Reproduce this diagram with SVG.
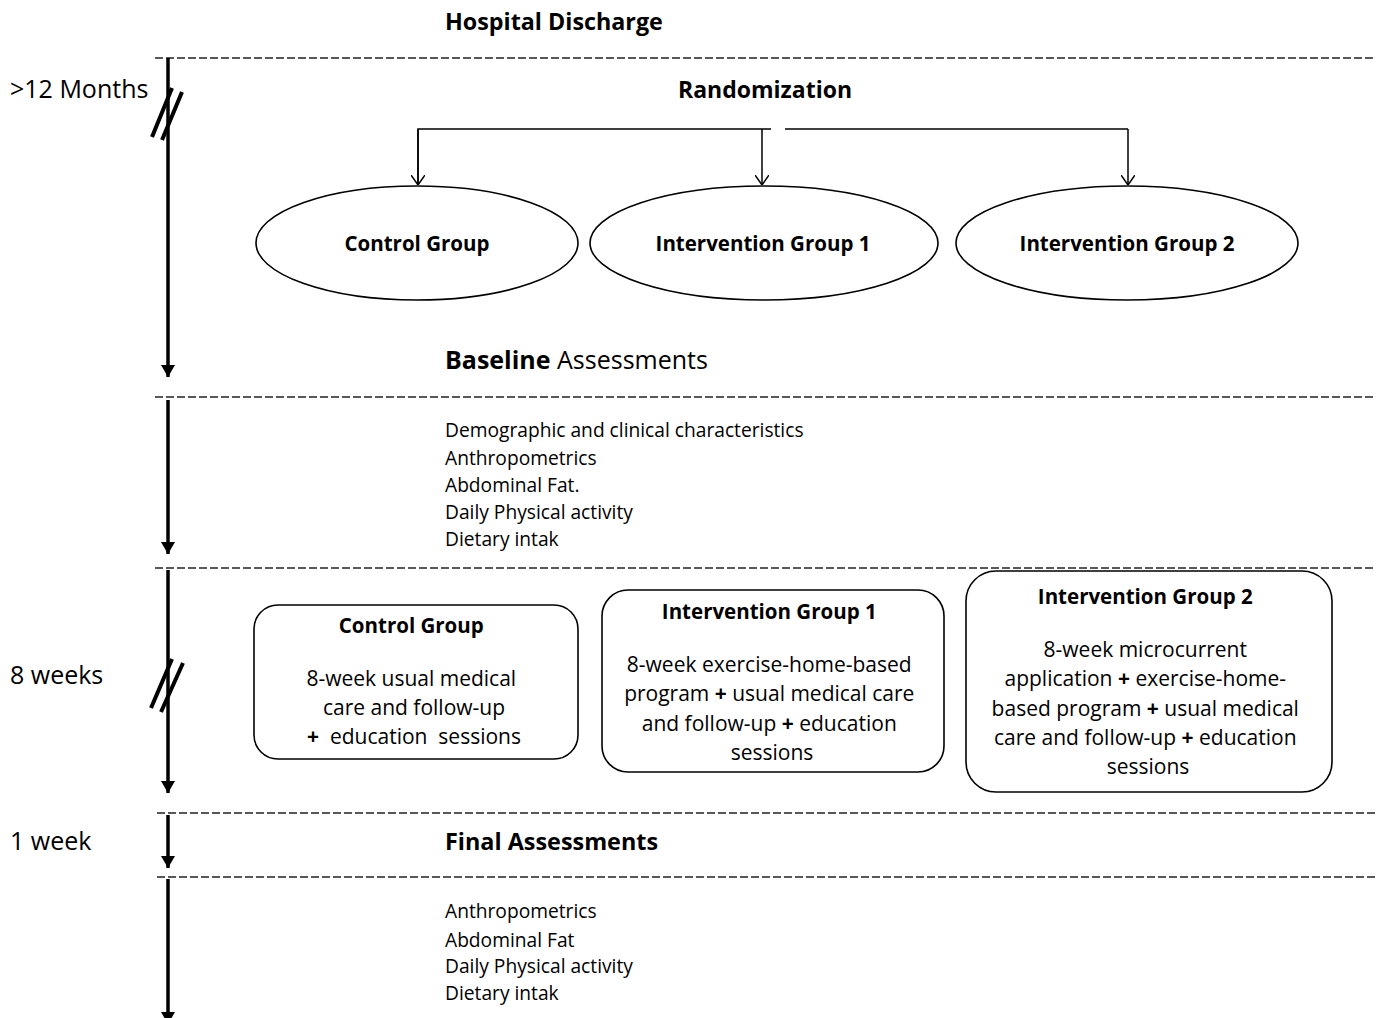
<svg xmlns="http://www.w3.org/2000/svg" width="1376" height="1018" viewBox="0 0 1376 1018">
<defs>
<style>
.t{font-family:"Open Sans","Liberation Sans",sans-serif;fill:#000}
.b{font-weight:bold}
.dash{stroke:#222;stroke-width:1.6;stroke-dasharray:8 3;fill:none}
.tl{stroke:#000;stroke-width:3.5;fill:none}
.sl{stroke:#000;stroke-width:4;fill:none}
.con{stroke:#000;stroke-width:1.5;fill:none}
.node{fill:#fff;stroke:#000;stroke-width:1.6}
</style>
<marker id="tip" viewBox="0 0 12 14" markerWidth="12" markerHeight="14" refX="12" refY="7" orient="auto" markerUnits="userSpaceOnUse"><path d="M0,0 L12,7 L0,14 Z" fill="#000"/></marker>
<marker id="vee" viewBox="0 0 10 14" markerWidth="10" markerHeight="14" refX="10" refY="7" orient="auto" markerUnits="userSpaceOnUse"><path d="M0,0 L10,7 L0,14" fill="none" stroke="#000" stroke-width="1.5"/></marker>
</defs>
<rect width="1376" height="1018" fill="#fff"/>
<g id="dividers">
<line class="dash" x1="155" y1="58" x2="1376" y2="58"/>
<line class="dash" x1="155" y1="397" x2="1376" y2="397"/>
<line class="dash" x1="155" y1="568" x2="1376" y2="568"/>
<line class="dash" x1="157" y1="813" x2="1376" y2="813"/>
<line class="dash" x1="157" y1="877" x2="1376" y2="877"/>
</g>
<g id="timeline">
<line class="tl" x1="168" y1="58" x2="168" y2="377" marker-end="url(#tip)"/>
<line class="tl" x1="168" y1="400" x2="168" y2="554" marker-end="url(#tip)"/>
<line class="tl" x1="168" y1="570" x2="168" y2="793" marker-end="url(#tip)"/>
<line class="tl" x1="168" y1="815" x2="168" y2="868" marker-end="url(#tip)"/>
<line class="tl" x1="168" y1="879" x2="168" y2="1024" marker-end="url(#tip)"/>
<line class="sl" x1="152" y1="137" x2="172" y2="88"/>
<line class="sl" x1="162" y1="140" x2="182" y2="92"/>
<line class="sl" x1="151" y1="708" x2="172" y2="659"/>
<line class="sl" x1="161" y1="712" x2="183" y2="663"/>
</g>
<g id="labels">
<text class="t b" x="445" y="30" font-size="23.3">Hospital Discharge</text>
<text class="t" x="10" y="98" font-size="25">&gt;12 Months</text>
<text class="t b" x="678" y="98" font-size="23">Randomization</text>
<text class="t" x="445" y="369" font-size="25"><tspan class="b">Baseline</tspan> Assessments</text>
<text class="t" x="10" y="684" font-size="25">8 weeks</text>
<text class="t" x="10" y="850" font-size="25">1 week</text>
<text class="t b" x="445" y="850" font-size="23.4">Final Assessments</text>
</g>
<g id="baseline-list" class="t" font-size="19.2">
<text x="445" y="437">Demographic and clinical characteristics</text>
<text x="445" y="465">Anthropometrics</text>
<text x="445" y="492">Abdominal Fat.</text>
<text x="445" y="519">Daily Physical activity</text>
<text x="445" y="546">Dietary intak</text>
</g>
<g id="final-list" class="t" font-size="19.2">
<text x="445" y="918">Anthropometrics</text>
<text x="445" y="947">Abdominal Fat</text>
<text x="445" y="973">Daily Physical activity</text>
<text x="445" y="1000">Dietary intak</text>
</g>
<g id="connectors">
<polyline class="con" points="418,185 418,129 771,129"/>
<line class="con" x1="785" y1="129" x2="1128" y2="129"/>
<line class="con" x1="418" y1="129" x2="418" y2="185" marker-end="url(#vee)"/>
<line class="con" x1="762" y1="129" x2="762" y2="185" marker-end="url(#vee)"/>
<line class="con" x1="1128" y1="129" x2="1128" y2="185" marker-end="url(#vee)"/>
</g>
<g id="ellipse-control">
<ellipse class="node" cx="417" cy="243" rx="161" ry="57"/>
<text class="t b" x="417" y="251" font-size="20.5" text-anchor="middle">Control Group</text>
</g>
<g id="ellipse-ig1">
<ellipse class="node" cx="764" cy="243" rx="174" ry="57"/>
<text class="t b" x="763" y="251" font-size="20.5" text-anchor="middle">Intervention Group 1</text>
</g>
<g id="ellipse-ig2">
<ellipse class="node" cx="1127" cy="243" rx="171" ry="57"/>
<text class="t b" x="1127" y="251" font-size="20.5" text-anchor="middle">Intervention Group 2</text>
</g>
<g id="box-control">
<rect class="node" x="254" y="605" width="324" height="154" rx="24"/>
<text class="t" font-size="21" text-anchor="middle">
<tspan class="b" x="414" y="633" font-size="20.5">Control Group</tspan>
<tspan x="414" y="686">8-week usual medical</tspan>
<tspan x="414" y="715">care and follow-up</tspan>
</text>
<text class="t" font-size="21" text-anchor="middle" x="414" y="744" xml:space="preserve"><tspan class="b">+</tspan>  education  sessions</text>
</g>
<g id="box-ig1">
<rect class="node" x="602" y="590" width="342" height="182" rx="26"/>
<text class="t" font-size="21" text-anchor="middle">
<tspan class="b" x="772" y="619" font-size="20.5">Intervention Group 1</tspan>
<tspan x="772" y="672">8-week exercise-home-based</tspan>
<tspan x="772" y="701">program <tspan class="b">+</tspan> usual medical care</tspan>
<tspan x="772" y="731">and follow-up <tspan class="b">+</tspan> education</tspan>
<tspan x="772" y="760">sessions</tspan>
</text>
</g>
<g id="box-ig2">
<rect class="node" x="966" y="571" width="366" height="221" rx="30"/>
<text class="t" font-size="21" text-anchor="middle">
<tspan class="b" x="1148" y="604" font-size="20.5">Intervention Group 2</tspan>
<tspan x="1148" y="657">8-week microcurrent</tspan>
<tspan x="1148" y="686">application <tspan class="b">+</tspan> exercise-home-</tspan>
<tspan x="1148" y="716">based program <tspan class="b">+</tspan> usual medical</tspan>
<tspan x="1148" y="745">care and follow-up <tspan class="b">+</tspan> education</tspan>
<tspan x="1148" y="774">sessions</tspan>
</text>
</g>
</svg>
